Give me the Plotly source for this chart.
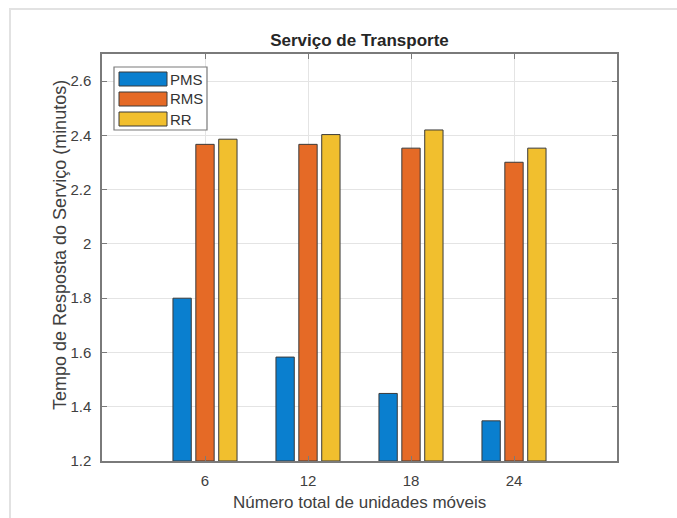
import plotly.graph_objects as go

# Data
units = [6, 12, 18, 24]
series_names = ["PMS", "RMS", "RR"]
pms = [1.80, 1.583, 1.449, 1.348]
rms = [2.367, 2.367, 2.353, 2.301]
rr = [2.386, 2.403, 2.420, 2.353]
y_floor = 1.2
y_ticks = [1.2, 1.4, 1.6, 1.8, 2.0, 2.2, 2.4, 2.6]
y_ticktext = ["1.2", "1.4", "1.6", "1.8", "2", "2.2", "2.4", "2.6"]

colors = ["#0a7fcf", "#e56a26", "#f1bf2e"]
edge = "#3a3a3a"

W, H = 677, 518
L, R, T, B = 102, 60, 54, 57
plot_w = W - L - R
plot_h = H - T - B

# MATLAB-style grouped bars: slot 4/3 units, bar 0.8 of slot
slot = 4.0 / 3.0
bar_w = 0.8 * slot

fig = go.Figure()
for i, (name, vals) in enumerate(zip(series_names, [pms, rms, rr])):
    center_off = (i - 1) * slot
    fig.add_trace(go.Bar(
        x=units, y=[v - y_floor for v in vals], base=y_floor, name=name,
        width=bar_w, offset=center_off - bar_w / 2,
        marker=dict(color=colors[i], line=dict(color=edge, width=1)),
        showlegend=False,
        hovertemplate=name + ": %{customdata}<extra></extra>", customdata=vals,
    ))

font_family = "Liberation Sans, Arial, Helvetica, sans-serif"
axis_col = "#7a7a7a"
grid_col = "#e4e4e4"
text_col = "#404040"


def px_to_paper_x(px):
    return (px - L) / plot_w


def px_to_paper_y(py):
    return (H - B - py) / plot_h


fig.update_layout(
    width=W, height=H,
    margin=dict(l=L, r=R, t=T, b=B),
    paper_bgcolor="white", plot_bgcolor="white",
    barmode="overlay",
    font=dict(family=font_family, size=15, color=text_col),
    title=dict(text="<b>Serviço de Transporte</b>", x=(L + plot_w / 2) / W, xanchor="center",
               y=1 - 40 / H, yanchor="middle",
               font=dict(size=17, color="#262626")),
)

fig.update_xaxes(
    range=[0, 30], tickvals=units, ticktext=[str(u) for u in units],
    showgrid=True, gridcolor=grid_col, gridwidth=1,
    showline=True, linecolor=axis_col, linewidth=1.5, mirror="ticks",
    ticks="inside", ticklen=5, tickcolor=axis_col,
    tickfont=dict(size=15, color=text_col), ticklabelstandoff=5,
    zeroline=False,
)
fig.update_yaxes(
    range=[1.2, 2.7], tickvals=y_ticks, ticktext=y_ticktext,
    showgrid=True, gridcolor=grid_col, gridwidth=1,
    showline=True, linecolor=axis_col, linewidth=1.5, mirror="ticks",
    ticks="inside", ticklen=5, tickcolor=axis_col,
    tickfont=dict(size=15, color=text_col), ticklabelstandoff=6,
    zeroline=False,
)

shapes = []
# soft frame of the figure window
shapes.append(dict(type="rect", xref="paper", yref="paper",
                   x0=px_to_paper_x(10), x1=px_to_paper_x(700),
                   y0=px_to_paper_y(530), y1=px_to_paper_y(9),
                   line=dict(color="#e2e2e2", width=2), fillcolor="rgba(0,0,0,0)", layer="below"))

annotations = [
    dict(xref="paper", yref="paper", x=px_to_paper_x(L + plot_w / 2), y=px_to_paper_y(502),
         text="Número total de unidades móveis", showarrow=False,
         xanchor="center", yanchor="middle", font=dict(size=17, color=text_col)),
    dict(xref="paper", yref="paper", x=px_to_paper_x(60), y=px_to_paper_y(245),
         text="Tempo de Resposta do Serviço (minutos)", showarrow=False, textangle=-90,
         xanchor="center", yanchor="middle", font=dict(size=18, color=text_col)),
]

# legend box
lx0, lx1, ly0, ly1 = 114, 207, 67, 130
shapes.append(dict(type="rect", xref="paper", yref="paper",
                   x0=px_to_paper_x(lx0), x1=px_to_paper_x(lx1),
                   y0=px_to_paper_y(ly1), y1=px_to_paper_y(ly0),
                   line=dict(color="#7a7a7a", width=1.2), fillcolor="white"))
row_y = [79, 99, 119]
for i, name in enumerate(series_names):
    cy = row_y[i]
    shapes.append(dict(type="rect", xref="paper", yref="paper",
                       x0=px_to_paper_x(119), x1=px_to_paper_x(167),
                       y0=px_to_paper_y(cy + 7), y1=px_to_paper_y(cy - 7),
                       line=dict(color=edge, width=1), fillcolor=colors[i]))
    annotations.append(dict(xref="paper", yref="paper", x=px_to_paper_x(168), y=px_to_paper_y(cy),
                            text=name, showarrow=False, xanchor="left", yanchor="middle",
                            font=dict(size=15, color="#333333", family=font_family)))

fig.update_layout(shapes=shapes, annotations=annotations)
fig.write_html("out.html")
